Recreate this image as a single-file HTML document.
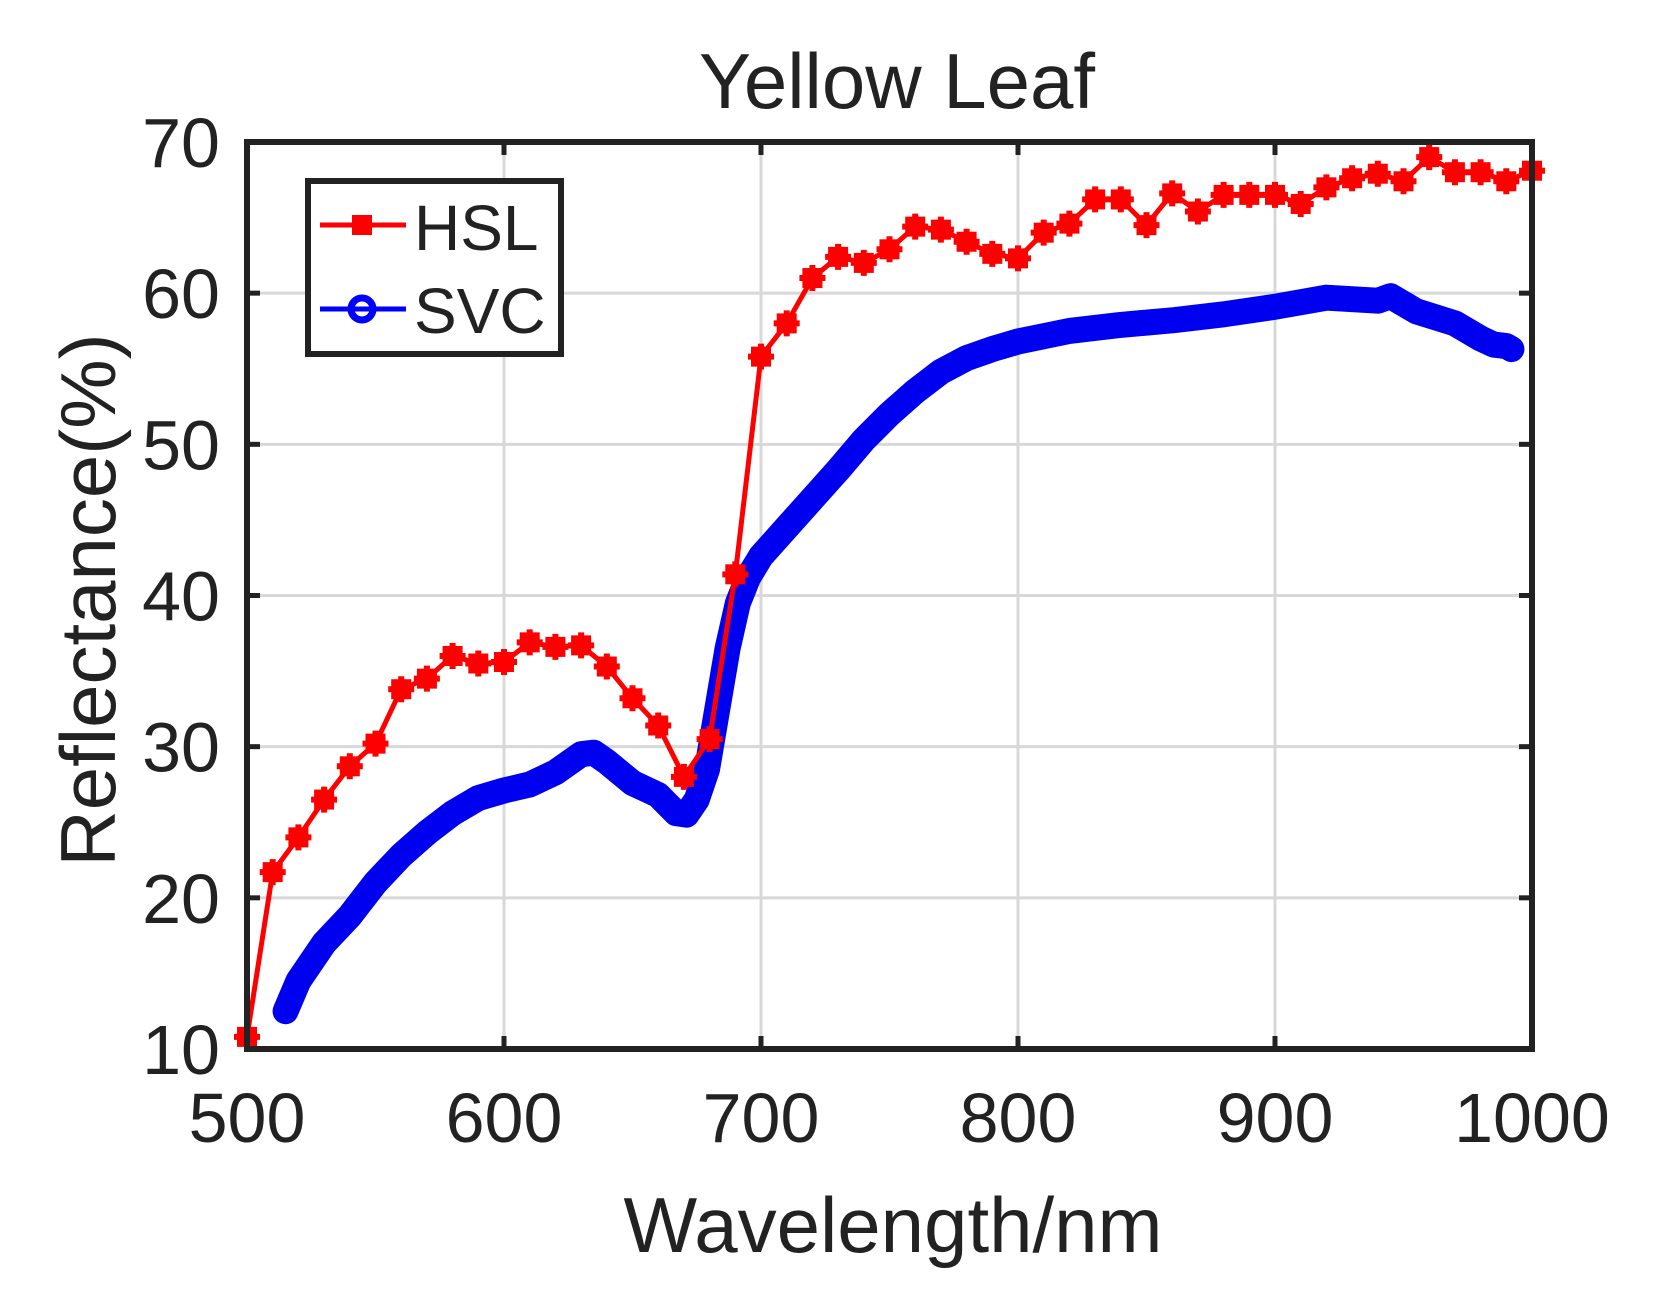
<!DOCTYPE html>
<html><head><meta charset="utf-8"><style>
html,body{margin:0;padding:0;background:#fff;}
svg{display:block;}
text{font-family:"Liberation Sans",sans-serif;fill:#222;}
</style></head><body>
<svg id="s" width="1665" height="1297" viewBox="0 0 1665 1297" xmlns="http://www.w3.org/2000/svg">
<rect width="1665" height="1297" fill="#fff"/>
<g id="grid" stroke="#d8d8d8" stroke-width="3"></g>
<g id="data"></g>
<rect x="247" y="142" width="1285" height="907" fill="none" stroke="#222" stroke-width="6"/>
<g id="ticks" stroke="#222" stroke-width="5"></g>
<g id="labels" font-size="70"></g>
<text x="897" y="108" font-size="78" text-anchor="middle">Yellow Leaf</text>
<text x="893" y="1252" font-size="78" text-anchor="middle">Wavelength/nm</text>
<text transform="translate(115,600) rotate(-90)" font-size="78" text-anchor="middle">Reflectance(%)</text>
<rect x="308" y="181" width="253" height="173" fill="#fff" stroke="#222" stroke-width="6"/>
<line x1="320" y1="225" x2="406" y2="225" stroke="#f00" stroke-width="5"/>
<rect x="352" y="215" width="20" height="20" fill="#f00"/>
<text x="414" y="250" font-size="64" fill="#111">HSL</text>
<line x1="320" y1="309" x2="406" y2="309" stroke="#00f" stroke-width="5"/>
<circle cx="362" cy="309" r="11" fill="none" stroke="#00f" stroke-width="7"/>
<text x="414" y="333" font-size="64" fill="#111">SVC</text>
</svg>
<script>
const NS="http://www.w3.org/2000/svg";
const X=w=>247+(w-500)*2.57, Y=r=>1049-(r-10)*15.117;
function el(p,t,a){const e=document.createElementNS(NS,t);for(const k in a)e.setAttribute(k,a[k]);document.getElementById(p).appendChild(e);return e;}
for(let w=600;w<1000;w+=100){el('grid','line',{x1:X(w),y1:142,x2:X(w),y2:1049});}
for(let r=20;r<70;r+=10){el('grid','line',{x1:247,y1:Y(r),x2:1532,y2:Y(r)});}
for(let w=500;w<=1000;w+=100){el('ticks','line',{x1:X(w),y1:1049,x2:X(w),y2:1036});el('ticks','line',{x1:X(w),y1:142,x2:X(w),y2:155});
 const t=el('labels','text',{x:X(w),y:1142,'text-anchor':'middle'});t.textContent=w;}
for(let r=10;r<=70;r+=10){el('ticks','line',{x1:247,y1:Y(r),x2:260,y2:Y(r)});el('ticks','line',{x1:1532,y1:Y(r),x2:1519,y2:Y(r)});
 const t=el('labels','text',{x:220,y:Y(r)+25,'text-anchor':'end'});t.textContent=r;}
const svc=[[515,12.5],[520,14.5],[530,17],[540,18.8],[550,21],[560,22.8],[570,24.3],[580,25.6],[590,26.6],[600,27.1],[610,27.5],[620,28.3],[630,29.5],[635,29.6],[640,29],[650,27.6],[660,26.8],[667,25.6],[671,25.5],[675,26.5],[679,28.5],[683,32.5],[687,36.5],[691,39.5],[695,41.2],[700,42.6],[710,44.5],[720,46.4],[730,48.3],[740,50.3],[750,52],[760,53.5],[770,54.8],[780,55.7],[790,56.3],[800,56.8],[820,57.5],[840,57.9],[860,58.2],[880,58.6],[900,59.1],[920,59.7],[930,59.6],[940,59.5],[945,59.8],[955,58.8],[970,58],[980,57],[985,56.6],[990,56.5],[992,56.3]];
el('data','polyline',{points:svc.map(p=>X(p[0])+','+Y(p[1])).join(' '),fill:'none',stroke:'#0000f0','stroke-width':26,'stroke-linejoin':'round','stroke-linecap':'round'});
const hsl=[10.8,21.7,24,26.5,28.7,30.2,33.8,34.5,36,35.5,35.6,36.9,36.6,36.7,35.3,33.2,31.4,28,30.5,41.4,55.8,58,61,62.4,62,62.9,64.4,64.2,63.4,62.6,62.3,64,64.6,66.2,66.2,64.5,66.6,65.4,66.5,66.5,66.5,65.9,67,67.6,67.9,67.4,69,68,68,67.4,68.1];
el('data','polyline',{points:hsl.map((r,i)=>X(500+i*10)+','+Y(r)).join(' '),fill:'none',stroke:'#f00','stroke-width':5});
hsl.forEach((r,i)=>{const x=X(500+i*10),y=Y(r);el('data','rect',{x:x-10,y:y-10,width:20,height:20,fill:'#f00'});
 el('data','path',{d:`M${x-13} ${y}H${x+13}M${x} ${y-13}V${y+13}`,stroke:'#f00','stroke-width':6});});
</script>
</body></html>
